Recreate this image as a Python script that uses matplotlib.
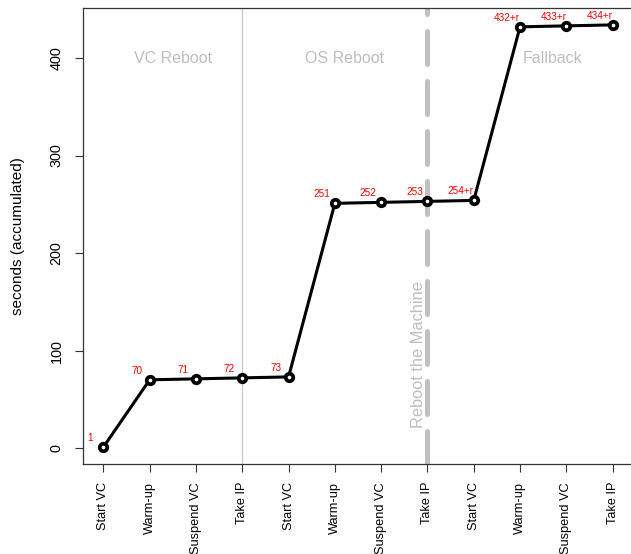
import numpy as np
import matplotlib.pyplot as plt

plt.rcParams['font.family'] = ['Liberation Sans', 'DejaVu Sans']

steps = ["Start VC", "Warm-up", "Suspend VC", "Take IP",
         "Start VC", "Warm-up", "Suspend VC", "Take IP",
         "Start VC", "Warm-up", "Suspend VC", "Take IP"]
seconds = [1, 70, 71, 72, 73, 251, 252, 253, 254, 432, 433, 434]
point_labels = ["1", "70", "71", "72", "73", "251", "252", "253",
                "254+r", "432+r", "433+r", "434+r"]
phases = ["VC Reboot", "OS Reboot", "Fallback"]
phase_x = [2.5, 6.2, 10.7]

x = np.arange(1, len(steps) + 1)

fig = plt.figure(figsize=(6.31, 5.54), dpi=100)
ax = fig.add_axes([83 / 631, 1 - 464 / 554, 550 / 631, 456 / 554])

# phase separators
ax.axvline(4, color='#c8c8c8', lw=0.9, zorder=1)
ax.axvline(8, color='#c0c0c0', lw=3.6, dashes=(6.6, 3.4),
           dash_capstyle='round', zorder=1)

ax.plot(x, seconds, color='black', lw=2.2, marker='o', ms=5.4,
        mfc='white', mec='black', mew=2.7, zorder=3)

for xi, yi, lab in zip(x, seconds, point_labels):
    ax.text(xi - 0.28, yi + 9.5, lab, color='red', fontsize=7.2,
            ha='center', va='center', zorder=4)

for px, name in zip(phase_x, phases):
    ax.text(px, 400, name, color='#bebebe', fontsize=11.5,
            ha='center', va='center')

ax.text(7.8, 96, "Reboot the Machine", color='#bebebe', fontsize=11.8,
        rotation=90, ha='center', va='center')

ax.set_xlim(0.56, 12.44)
ax.set_ylim(-16.32, 451.32)

ax.set_xticks(x)
ax.set_xticklabels(steps, rotation=90, fontsize=9.2)
ax.set_yticks([0, 100, 200, 300, 400])
ax.set_yticklabels(["0", "100", "200", "300", "400"], rotation=90,
                   fontsize=10.4, va='center')
ax.tick_params(axis='both', length=6, width=0.8, color='#333333')
ax.tick_params(axis='x', pad=7)
ax.tick_params(axis='y', pad=8)
for s in ax.spines.values():
    s.set_linewidth(0.9)
    s.set_color('#333333')

ax.set_ylabel("seconds (accumulated)", fontsize=11)
ax.yaxis.set_label_coords(-0.105, 0.5)

fig.savefig("out.png", dpi=100)
